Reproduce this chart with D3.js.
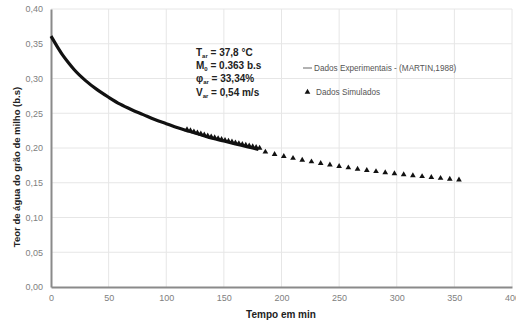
<!DOCTYPE html>
<html>
<head>
<meta charset="utf-8">
<script src="https://cdn.jsdelivr.net/npm/d3@7"></script>
<style>
body{margin:0;background:#fff;}
svg{font-family:"Liberation Sans",Arial,sans-serif;}
</style>
</head>
<body>
<svg></svg>
<script>
// tempo (min) e teor de agua (b.s)
var expTime = [0,5,10,15,20,30,40,50,60,70,80,90,100,110,120,130,140,150,160,170,180];
var expVal  = [0.361,0.347,0.334,0.323,0.313,0.297,0.284,0.273,0.263,0.255,0.248,0.241,0.235,0.229,0.224,0.219,0.214,0.210,0.206,0.202,0.198];

var simTime = [118,121,124,127,130,133,136,139,142,145,148,151,154,157,160,163,166,169,172,175,178,181,
               186,194,202,210,218,226,234,242,250,258,266,274,282,290,298,306,314,322,330,338,346,354];
var simVal  = [0.2265,0.2250,0.2235,0.2220,0.2205,0.2190,0.2176,0.2163,0.2150,0.2137,0.2124,0.2112,0.2100,0.2088,0.2076,0.2065,0.2054,0.2043,0.2032,0.2021,0.2010,0.1999,
               0.1943,0.1910,0.1880,0.1853,0.1827,0.1803,0.1780,0.1758,0.1737,0.1717,0.1698,0.1680,0.1663,0.1647,0.1632,0.1618,0.1604,0.1591,0.1578,0.1566,0.1554,0.1542];

var xTicks = [0,50,100,150,200,250,300,350,400];
var yTicks = [0,0.05,0.10,0.15,0.20,0.25,0.30,0.35,0.40];

var screen = {width:516,height:325};
var margins = {left:51,right:4,top:9,bottom:38};
var graph = {
    width:screen.width-margins.left-margins.right,
    height:screen.height-margins.top-margins.bottom
};

var svg = d3.select("svg")
    .attr("width",screen.width)
    .attr("height",screen.height);

var xScale = d3.scaleLinear().domain([0,400]).range([0,graph.width]);
var yScale = d3.scaleLinear().domain([0,0.40]).range([graph.height,0]);

var target = svg.append("g")
    .attr("transform","translate("+margins.left+","+margins.top+")");

// grade
target.append("g").selectAll("line")
    .data(xTicks.slice(1))
    .enter().append("line")
    .attr("x1",function(d){return xScale(d);})
    .attr("x2",function(d){return xScale(d);})
    .attr("y1",0).attr("y2",graph.height)
    .attr("stroke","#e6e6e6").attr("stroke-width",1);
target.append("g").selectAll("line")
    .data(yTicks.slice(1))
    .enter().append("line")
    .attr("y1",function(d){return yScale(d);})
    .attr("y2",function(d){return yScale(d);})
    .attr("x1",0).attr("x2",graph.width)
    .attr("stroke","#e6e6e6").attr("stroke-width",1);

// eixos
var fmt = function(d){return d3.format(".2f")(d).replace(".",",");};
var xAxis = target.append("g")
    .attr("transform","translate(0,"+graph.height+")")
    .call(d3.axisBottom(xScale).tickValues(xTicks).tickSize(0).tickPadding(8));
var yAxis = target.append("g")
    .call(d3.axisLeft(yScale).tickValues(yTicks).tickFormat(fmt).tickSize(0).tickPadding(8));
[xAxis,yAxis].forEach(function(a){
    a.select(".domain").attr("stroke","#8a8a8a").attr("stroke-width",2);
    a.selectAll("text").attr("fill","#808080").attr("font-size","9px");
});

// curva experimental
var line = d3.line()
    .x(function(d){return xScale(d[0]);})
    .y(function(d){return yScale(d[1]);})
    .curve(d3.curveMonotoneX);
target.append("path")
    .datum(d3.zip(expTime,expVal))
    .attr("d",line)
    .attr("fill","none")
    .attr("stroke","#111")
    .attr("stroke-width",3.2);

// dados simulados
var tri = d3.symbol().type(d3.symbolTriangle).size(14);
target.append("g").selectAll("path")
    .data(d3.zip(simTime,simVal))
    .enter().append("path")
    .attr("d",tri)
    .attr("fill","#111")
    .attr("transform",function(d){return "translate("+xScale(d[0])+","+yScale(d[1])+")";});

// rotulos dos eixos
svg.append("text")
    .attr("x",281).attr("y",318)
    .attr("text-anchor","middle")
    .attr("font-size","10px").attr("font-weight","bold").attr("fill","#222")
    .text("Tempo em min");
svg.append("text")
    .attr("transform","translate(20,167) rotate(-90)")
    .attr("text-anchor","middle")
    .attr("font-size","9.5px").attr("font-weight","bold").attr("fill","#222")
    .text("Teor de água do grão de milho (b.s)");

// condicoes do ensaio
var conds = [
    {s:"T",sub:"ar",v:" = 37,8 °C"},
    {s:"M",sub:"0",v:" = 0.363 b.s"},
    {s:"φ",sub:"ar",v:" = 33,34%"},
    {s:"V",sub:"ar",v:" = 0,54 m/s"}
];
var info = svg.append("g").attr("font-size","10px").attr("font-weight","bold").attr("fill","#222");
info.selectAll("text")
    .data(conds)
    .enter().append("text")
    .attr("x",196)
    .attr("y",function(d,i){return 56+i*13.2;})
    .each(function(d){
        var t = d3.select(this);
        t.append("tspan").text(d.s);
        t.append("tspan").attr("font-size","6px").attr("dy",2).text(d.sub);
        t.append("tspan").attr("dy",-2).text(d.v);
    });

// legenda
var leg = svg.append("g").attr("font-size","8.2px").attr("fill","#555");
leg.append("line").attr("x1",303).attr("x2",312).attr("y1",68).attr("y2",68)
    .attr("stroke","#666").attr("stroke-width",1);
leg.append("text").attr("x",314).attr("y",71).text("Dados Experimentais - (MARTIN,1988)");
leg.append("path").attr("d",tri)
    .attr("transform","translate(307.5,92)").attr("fill","#111");
leg.append("text").attr("x",316).attr("y",95).text("Dados Simulados");
</script>
</body>
</html>
